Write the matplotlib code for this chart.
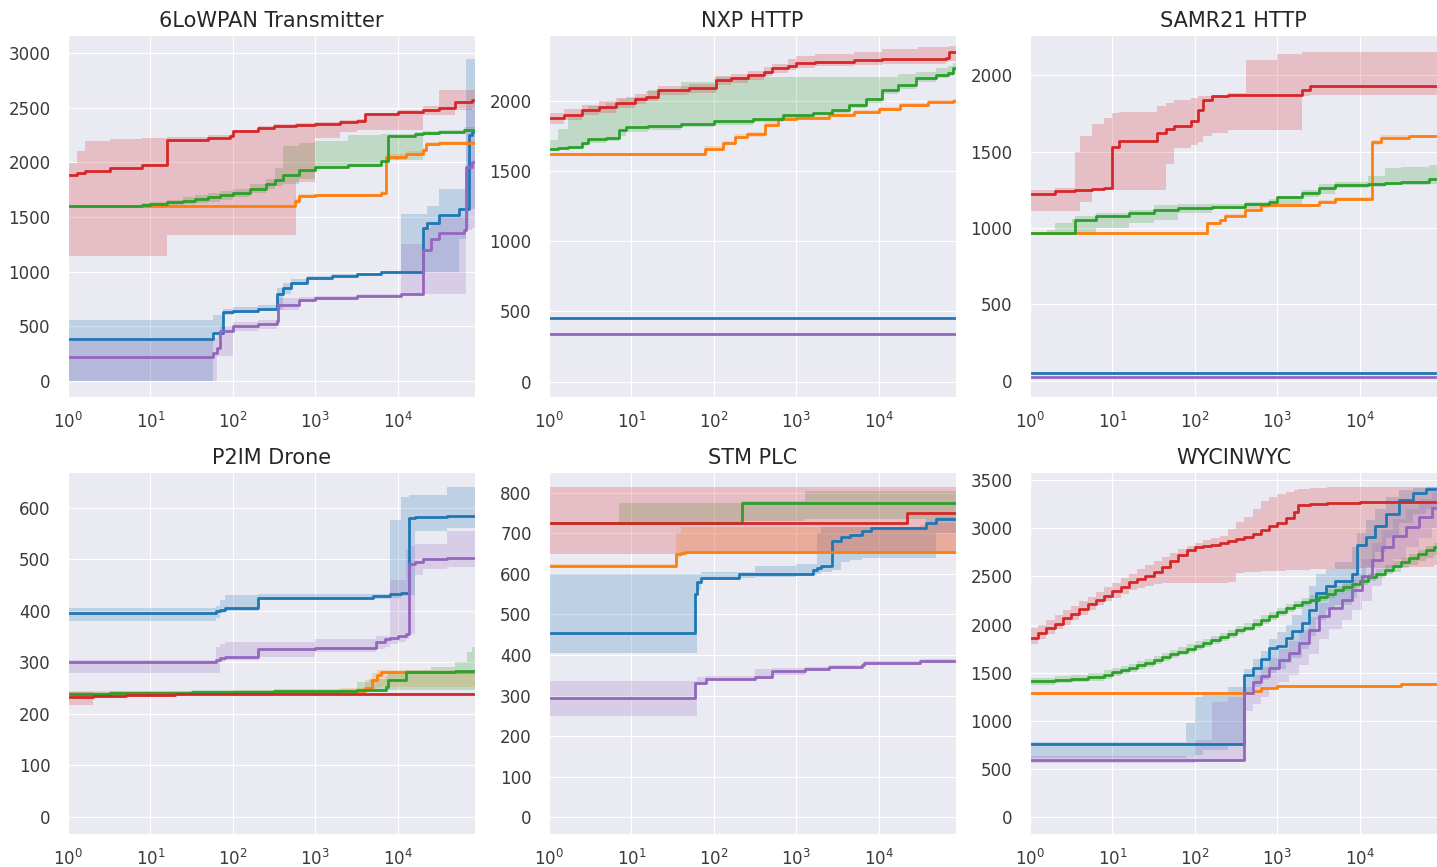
import numpy as np
import matplotlib.pyplot as plt
import seaborn as sns
from matplotlib.ticker import MultipleLocator

# rows are (time, mean, lower, upper); the last row is held until T_END
T_END = 86400

# 6LoWPAN Transmitter
tx_blue = [(1, 380, 0, 560), (58, 440, 420, 600), (76, 630, 600, 660), (100, 640, 620, 680),
           (200, 660, 640, 700), (340, 800, 650, 850), (400, 850, 800, 900), (500, 900, 880, 930),
           (800, 940, 920, 960), (1600, 960, 950, 975), (3200, 980, 970, 990), (6300, 1000, 990, 1010),
           (11000, 1000, 990, 1530), (20000, 1400, 1000, 1530), (22400, 1450, 1000, 1600),
           (32000, 1520, 1000, 1760), (56000, 1570, 1300, 1760), (68000, 1570, 1400, 2950),
           (74000, 2250, 1570, 2950), (80000, 2280, 1570, 2950)]
tx_orange = [(1, 1600, 1590, 1610), (560, 1650, 1620, 1670), (630, 1690, 1670, 1710),
             (1000, 1700, 1685, 1715), (6300, 1720, 1700, 1740), (7200, 2050, 2020, 2080),
             (12600, 2080, 2060, 2100), (20000, 2110, 2090, 2130), (22000, 2170, 2150, 2190),
             (32000, 2180, 2165, 2195)]
tx_green = [(1, 1600, 1590, 1610), (8, 1610, 1595, 1625), (10, 1620, 1600, 1640), (16, 1635, 1610, 1660),
            (25, 1650, 1620, 1680), (35, 1665, 1630, 1700), (50, 1680, 1640, 1720), (70, 1700, 1660, 1740),
            (100, 1720, 1680, 1760), (160, 1760, 1720, 1800), (250, 1800, 1760, 1850), (320, 1840, 1780, 1950),
            (400, 1880, 1800, 2150), (630, 1930, 1850, 2180), (1000, 1960, 1950, 2200),
            (2500, 1980, 1960, 2250), (6300, 2010, 1990, 2260), (7600, 2240, 2020, 2260),
            (16000, 2260, 2020, 2280), (20000, 2270, 2250, 2290), (32000, 2280, 2265, 2300),
            (63000, 2300, 2285, 2320)]
tx_red = [(1, 1885, 1140, 1990), (1.3, 1900, 1140, 2100), (1.6, 1920, 1140, 2200), (3.2, 1950, 1140, 2210),
          (8, 1975, 1140, 2220), (16, 2205, 1340, 2230), (50, 2220, 1340, 2250), (92, 2240, 1340, 2260),
          (100, 2290, 1340, 2300), (200, 2310, 1340, 2330), (316, 2330, 1340, 2350),
          (590, 2340, 1820, 2360), (1000, 2350, 2220, 2370), (2000, 2365, 2280, 2385),
          (3200, 2380, 2300, 2400), (4000, 2440, 2300, 2450), (10000, 2460, 2300, 2480),
          (20000, 2480, 2430, 2520), (32000, 2500, 2430, 2660), (50000, 2550, 2480, 2660),
          (80000, 2570, 2500, 2660)]
tx_purple = [(1, 220, 0, 390), (58, 260, 0, 390), (65, 300, 230, 450), (70, 460, 230, 500),
             (100, 500, 460, 540), (200, 520, 480, 560), (340, 550, 500, 700), (350, 700, 650, 760),
             (630, 740, 720, 770), (1000, 760, 745, 780), (3200, 780, 770, 795), (11000, 800, 790, 1250),
             (20000, 1200, 800, 1400), (25000, 1300, 800, 1450), (32000, 1350, 800, 1500),
             (63000, 1380, 800, 1500), (68000, 1960, 1380, 2500), (80000, 2000, 1400, 2500)]

# NXP HTTP
nxp_blue = [(1, 450, 445, 455)]
nxp_orange = [(1, 1620, 1610, 1630), (78, 1660, 1645, 1675), (130, 1700, 1685, 1715),
              (180, 1740, 1725, 1760), (250, 1760, 1745, 1775), (420, 1830, 1810, 1850),
              (600, 1870, 1855, 1885), (1000, 1880, 1865, 1895), (2500, 1900, 1885, 1915),
              (5000, 1920, 1905, 1935), (10000, 1940, 1925, 1955), (18000, 1970, 1955, 1985),
              (40000, 1990, 1975, 2005), (80000, 2000, 1985, 2015)]
nxp_green = [(1, 1660, 1645, 1720), (1.3, 1665, 1650, 1800), (1.7, 1672, 1660, 1885), (2.5, 1700, 1680, 1930),
             (3, 1731, 1700, 1960), (4.9, 1738, 1715, 1981), (7, 1790, 1750, 2010), (8.5, 1810, 1780, 2030),
             (16, 1819, 1795, 2076), (40, 1835, 1810, 2135), (100, 1855, 1830, 2171), (300, 1870, 1850, 2171),
             (680, 1898, 1875, 2171), (1600, 1915, 1895, 2171), (2700, 1934, 1910, 2171),
             (4400, 1969, 1945, 2171), (7000, 2010, 1985, 2171), (11000, 2076, 2050, 2171),
             (17000, 2110, 2085, 2190), (28000, 2159, 2130, 2207), (50000, 2180, 2160, 2230),
             (70000, 2195, 2175, 2250), (80000, 2230, 2205, 2266)]
nxp_red = [(1, 1875, 1835, 1915), (1.5, 1900, 1860, 1940), (2.5, 1934, 1895, 1970), (4, 1955, 1915, 1995),
           (6.5, 1981, 1945, 2020), (11, 2010, 1975, 2050), (15, 2029, 1995, 2070), (21, 2076, 2040, 2105),
           (50, 2088, 2055, 2120), (105, 2147, 2110, 2175), (160, 2160, 2125, 2190), (260, 2183, 2150, 2215),
           (400, 2205, 2175, 2240), (500, 2230, 2200, 2265), (800, 2250, 2220, 2300), (980, 2270, 2235, 2320),
           (1700, 2277, 2245, 2335), (5000, 2288, 2255, 2350), (11000, 2294, 2260, 2370),
           (30000, 2298, 2265, 2380), (65000, 2301, 2275, 2380), (72000, 2349, 2285, 2390)]
nxp_purple = [(1, 340, 336, 344)]

# SAMR21 HTTP
samr_blue = [(1, 50, 45, 55)]
samr_orange = [(1, 965, 960, 970), (142, 1030, 1020, 1040), (200, 1050, 1040, 1060), (230, 1080, 1070, 1090),
               (400, 1120, 1110, 1130), (630, 1150, 1140, 1160), (3200, 1170, 1160, 1180),
               (5000, 1190, 1180, 1200), (14000, 1560, 1540, 1575), (18000, 1590, 1575, 1605),
               (40000, 1600, 1590, 1610)]
samr_green = [(1, 965, 958, 972), (1.6, 965, 958, 990), (2, 965, 958, 1030), (3.2, 965, 960, 1060),
              (3.5, 1050, 970, 1080), (6.3, 1080, 1000, 1100), (16, 1100, 1030, 1120), (32, 1120, 1050, 1150),
              (63, 1130, 1100, 1160), (160, 1140, 1125, 1160), (400, 1160, 1130, 1170), (800, 1170, 1140, 1190),
              (1000, 1200, 1160, 1210), (2000, 1230, 1200, 1250), (3200, 1260, 1220, 1290),
              (5000, 1280, 1260, 1300), (12600, 1290, 1270, 1340), (20000, 1295, 1280, 1390),
              (32000, 1300, 1280, 1400), (70000, 1320, 1290, 1410)]
samr_red = [(1, 1220, 1110, 1250), (2, 1240, 1110, 1260), (3.5, 1250, 1110, 1500), (4, 1250, 1170, 1600),
            (5.6, 1255, 1250, 1680), (8, 1260, 1250, 1720), (10, 1530, 1250, 1750), (12, 1570, 1250, 1760),
            (35, 1620, 1250, 1800), (45, 1650, 1420, 1820), (56, 1670, 1520, 1840), (90, 1700, 1540, 1850),
            (110, 1770, 1560, 1860), (124, 1840, 1600, 1860), (160, 1860, 1620, 1870),
            (250, 1870, 1640, 1880), (420, 1870, 1640, 2100), (1000, 1870, 1640, 2140),
            (2000, 1900, 1860, 2150), (2500, 1930, 1870, 2150)]
samr_purple = [(1, 25, 22, 28)]

# P2IM Drone
drone_blue = [(1, 395, 380, 405), (63, 400, 385, 410), (70, 402, 395, 420), (80, 405, 400, 430),
              (200, 425, 420, 432), (5000, 428, 422, 432), (8000, 432, 425, 575), (11000, 434, 428, 620),
              (13500, 580, 430, 625), (16000, 582, 555, 625), (40000, 584, 560, 640)]
drone_orange = [(1, 238, 234, 244), (3.2, 240, 236, 245), (100, 243, 239, 247), (2000, 245, 241, 250),
                (4000, 250, 244, 265), (4800, 265, 248, 280), (5600, 275, 250, 285), (6300, 282, 252, 286)]
drone_green = [(1, 238, 234, 242), (3.2, 240, 236, 245), (32, 242, 238, 247), (316, 244, 240, 248),
               (3200, 246, 242, 262), (4500, 247, 243, 268), (7200, 253, 245, 272), (7600, 265, 246, 280),
               (12600, 281, 247, 286), (25000, 282, 247, 290), (50000, 283, 247, 300),
               (70000, 283, 247, 320), (80000, 283, 247, 330)]
drone_red = [(1, 232, 218, 242), (2, 234, 230, 240), (5, 236, 233, 240), (20, 238, 236, 240)]
drone_purple = [(1, 300, 280, 305), (63, 305, 280, 330), (70, 308, 300, 335), (80, 310, 305, 340),
                (200, 325, 310, 340), (1000, 327, 320, 345), (5400, 340, 325, 350), (7000, 345, 330, 350),
                (8000, 348, 335, 460), (10000, 350, 340, 460), (12600, 355, 345, 520),
                (13500, 490, 355, 525), (16000, 495, 470, 530), (20000, 500, 480, 530),
                (40000, 502, 485, 555)]

# STM PLC
plc_blue = [(1, 455, 405, 600), (59, 550, 405, 600), (62, 580, 560, 600), (70, 590, 585, 605),
            (200, 600, 590, 605), (316, 600, 592, 620), (1000, 600, 594, 625), (1600, 610, 598, 625),
            (1800, 615, 600, 700), (2000, 620, 605, 715), (2700, 680, 610, 715), (3500, 690, 630, 715),
            (4500, 695, 635, 715), (6300, 705, 640, 715), (8000, 712, 640, 715), (37000, 725, 640, 735),
            (50000, 735, 700, 740)]
plc_orange = [(1, 620, 615, 625), (35, 650, 640, 700), (40, 652, 645, 715), (45, 655, 648, 715),
              (32000, 655, 648, 720), (50000, 655, 648, 725)]
plc_green = [(1, 725, 722, 728), (7, 725, 722, 775), (220, 775, 730, 780), (1260, 775, 735, 805)]
plc_red = [(1, 725, 650, 815), (22000, 750, 650, 815)]
plc_purple = [(1, 295, 250, 335), (59, 330, 250, 335), (62, 332, 325, 345), (80, 340, 335, 348),
              (316, 345, 340, 365), (500, 360, 350, 368), (1260, 365, 360, 370), (2500, 370, 365, 375),
              (6300, 375, 370, 380), (6600, 380, 375, 385), (32000, 385, 380, 390)]

# WYCINWYC
wyc_blue = [(1, 760, 620, 780), (79, 760, 640, 980), (100, 760, 650, 1250), (126, 760, 700, 1300),
            (251, 760, 750, 1350), (398, 1480, 1280, 1540), (501, 1550, 1350, 1640), (631, 1640, 1430, 1730),
            (794, 1760, 1500, 1850), (1000, 1780, 1540, 1920), (1259, 1860, 1600, 2000),
            (1514, 1930, 1650, 2100), (1995, 2020, 1750, 2250), (2455, 2150, 1880, 2400),
            (2951, 2330, 2050, 2520), (3890, 2400, 2150, 2580), (5012, 2450, 2200, 2650),
            (7943, 2530, 2280, 2800), (9333, 2830, 2450, 2950), (11749, 2910, 2600, 3080),
            (15488, 3020, 2750, 3200), (20893, 3150, 2900, 3320), (30200, 3290, 3050, 3400),
            (43652, 3360, 3150, 3420), (63096, 3410, 3200, 3430)]
wyc_orange = [(1, 1290, 1275, 1305), (500, 1310, 1295, 1325), (630, 1340, 1325, 1355),
              (1000, 1360, 1345, 1375), (32000, 1380, 1365, 1395)]
wyc_green = [(1, 1410, 1370, 1450), (2, 1430, 1390, 1470), (3.16, 1440, 1400, 1480), (5.01, 1455, 1415, 1500),
             (7.94, 1480, 1440, 1525), (10, 1510, 1470, 1555), (12.6, 1530, 1490, 1575), (15.8, 1550, 1510, 1595),
             (20, 1580, 1540, 1625), (25.1, 1600, 1560, 1645), (31.6, 1630, 1590, 1675), (39.8, 1660, 1620, 1705),
             (50.1, 1690, 1650, 1735), (63.1, 1720, 1680, 1765), (79.4, 1750, 1710, 1795), (100, 1780, 1740, 1825),
             (126, 1810, 1770, 1855), (158, 1840, 1800, 1885), (200, 1870, 1830, 1915), (251, 1900, 1860, 1945),
             (316, 1940, 1900, 1985), (398, 1970, 1930, 2015), (501, 2010, 1970, 2055), (631, 2050, 2010, 2095),
             (794, 2090, 2050, 2135), (1000, 2130, 2090, 2175), (1259, 2170, 2130, 2215), (1585, 2200, 2160, 2245),
             (1995, 2230, 2190, 2275), (2512, 2260, 2220, 2305), (3162, 2290, 2250, 2335), (3981, 2320, 2280, 2365),
             (5012, 2360, 2320, 2405), (6310, 2390, 2350, 2435), (7943, 2420, 2380, 2465), (10000, 2450, 2410, 2495),
             (12589, 2490, 2450, 2535), (15849, 2530, 2480, 2575), (19953, 2570, 2520, 2615),
             (25119, 2610, 2550, 2655), (31623, 2650, 2590, 2695), (39811, 2690, 2620, 2735),
             (50119, 2730, 2660, 2775), (63096, 2770, 2690, 2815), (79433, 2810, 2720, 2850)]
wyc_red = [(1, 1860, 1800, 1960), (1.26, 1910, 1850, 2000), (1.58, 1960, 1900, 2050), (2, 2010, 1950, 2100),
           (2.51, 2070, 2000, 2150), (3.16, 2110, 2050, 2190), (3.98, 2160, 2100, 2240), (5.01, 2210, 2150, 2290),
           (6.31, 2260, 2200, 2340), (7.94, 2300, 2240, 2390), (10, 2350, 2280, 2430), (12.6, 2390, 2320, 2480),
           (15.8, 2440, 2360, 2530), (20, 2470, 2380, 2580), (25.1, 2500, 2400, 2620), (31.6, 2550, 2420, 2660),
           (39.8, 2600, 2430, 2700), (50.1, 2660, 2430, 2740), (63.1, 2720, 2430, 2780), (79.4, 2770, 2430, 2820),
           (100, 2800, 2430, 2850), (126, 2820, 2430, 2880), (158, 2830, 2430, 2900), (200, 2850, 2430, 2920),
           (251, 2870, 2440, 2990), (316, 2890, 2540, 3060), (398, 2910, 2550, 3120), (501, 2940, 2550, 3200),
           (631, 2980, 2560, 3280), (794, 3020, 2560, 3320), (1000, 3050, 2560, 3350), (1259, 3110, 2570, 3380),
           (1585, 3170, 2570, 3400), (1778, 3240, 2570, 3410), (2512, 3255, 2580, 3420),
           (3981, 3265, 2580, 3425), (10000, 3270, 2590, 3425), (31623, 3270, 2600, 3425),
           (80000, 3270, 2620, 3425)]
wyc_purple = [(1, 600, 560, 640), (63, 600, 560, 640), (100, 600, 570, 800), (160, 600, 580, 1200),
              (250, 600, 590, 1250), (398, 1290, 1100, 1350), (501, 1400, 1180, 1480), (631, 1466, 1250, 1560),
              (794, 1552, 1320, 1650), (1050, 1638, 1400, 1750), (1380, 1707, 1480, 1830),
              (1820, 1810, 1580, 1940), (2450, 1948, 1700, 2080), (3230, 2086, 1850, 2220),
              (4260, 2172, 1950, 2320), (6170, 2259, 2050, 2420), (8130, 2362, 2150, 2520),
              (10700, 2500, 2250, 2680), (14100, 2672, 2400, 2850), (18600, 2810, 2550, 2980),
              (25100, 2914, 2680, 3100), (36300, 3017, 2800, 3200), (52500, 3121, 2900, 3300),
              (75000, 3207, 3000, 3380)]

titles = ["6LoWPAN Transmitter", "NXP HTTP", "SAMR21 HTTP", "P2IM Drone", "STM PLC", "WYCINWYC"]
series = [
    [tx_blue, tx_orange, tx_green, tx_red, tx_purple],
    [nxp_blue, nxp_orange, nxp_green, nxp_red, nxp_purple],
    [samr_blue, samr_orange, samr_green, samr_red, samr_purple],
    [drone_blue, drone_orange, drone_green, drone_red, drone_purple],
    [plc_blue, plc_orange, plc_green, plc_red, plc_purple],
    [wyc_blue, wyc_orange, wyc_green, wyc_red, wyc_purple],
]

sns.set_style("darkgrid")
colors = ["tab:blue", "tab:orange", "tab:green", "tab:red", "tab:purple"]

W, H = 1437, 867
fig = plt.figure(figsize=(W / 100, H / 100), dpi=100)

lefts = [68, 549, 1030]
tops = [35, 472]
ylims = [(-146, 3165), (-109, 2468), (-105, 2262), (-33, 669), (-41, 851), (-172, 3583)]
ysteps = [500, 500, 500, 100, 100, 500]

for i in range(6):
    r, c = divmod(i, 3)
    ax = fig.add_axes([lefts[c] / W, 1 - (tops[r] + 362) / H, 407 / W, 362 / H])
    for rows, col in zip(series[i], colors):
        arr = np.array(rows + [(T_END,) + tuple(rows[-1][1:])], dtype=float)
        t, m, lo, hi = arr.T
        ax.fill_between(t, lo, hi, step="post", color=col, alpha=0.22, linewidth=0)
        ax.step(t, m, where="post", color=col, lw=2.0)
    ax.set_xscale("log")
    ax.set_xlim(1, T_END)
    ax.set_ylim(*ylims[i])
    ax.yaxis.set_major_locator(MultipleLocator(ysteps[i]))
    ax.set_xticks([1, 10, 100, 1000, 10000])
    ax.minorticks_off()
    ax.tick_params(axis="y", labelsize=12, pad=9, colors="#3a3a3a")
    ax.tick_params(axis="x", labelsize=12, pad=7, colors="#3a3a3a")
    ax.set_title(titles[i], fontsize=15, color="#262626")

fig.savefig("out.png", dpi=100)
